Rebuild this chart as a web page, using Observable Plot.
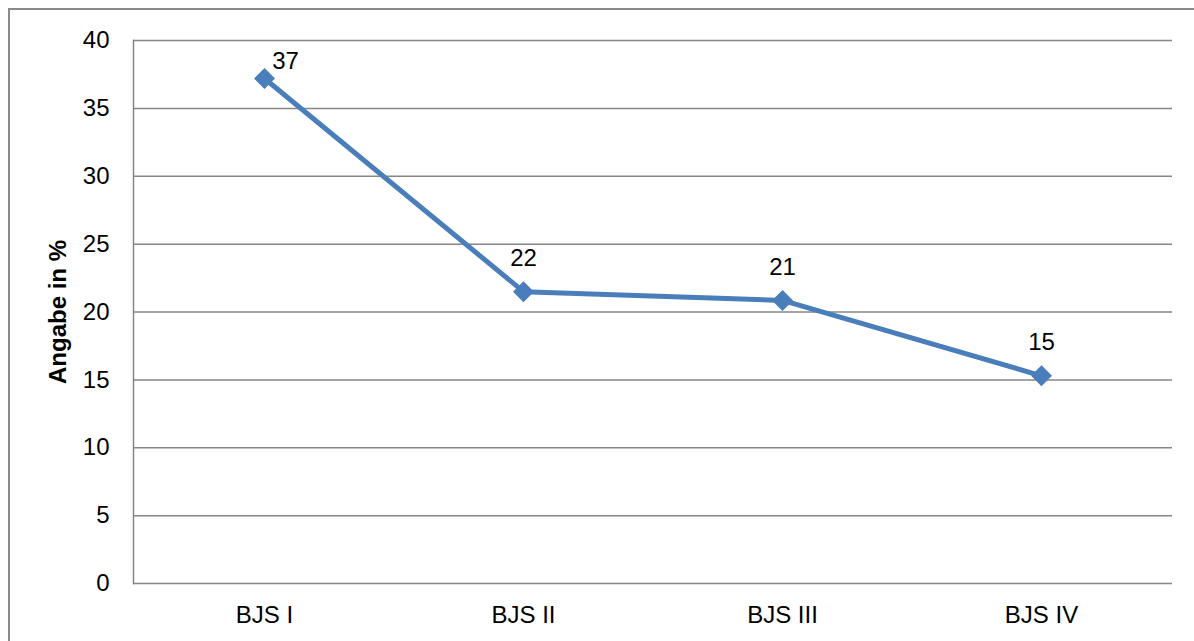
<!DOCTYPE html>
<html>
<head>
<meta charset="utf-8">
<script src="https://cdn.jsdelivr.net/npm/d3@7"></script>
<script src="https://cdn.jsdelivr.net/npm/@observablehq/plot@0.6"></script>
<style>
  html, body { margin: 0; padding: 0; background: #fff; }
  #wrap { position: relative; width: 1194px; height: 641px; overflow: hidden; }
  #border { position: absolute; left: 8px; top: 8px; width: 1300px; height: 800px;
            border-left: 2px solid #8a8a8a; border-top: 2px solid #8a8a8a; pointer-events: none; }
  #chart { position: absolute; left: 0; top: 0; }
</style>
</head>
<body>
<div id="wrap"><div id="chart"></div><div id="border"></div></div>
<script>
const categories = ["BJS I", "BJS II", "BJS III", "BJS IV"];
const values = [37.2, 21.5, 20.85, 15.3];
const labels = ["37", "22", "21", "15"];
const yTicks = [0, 5, 10, 15, 20, 25, 30, 35, 40];

const data = categories.map((c, i) => ({cat: c, v: values[i], label: labels[i], i}));
const font = "Liberation Sans, Arial, sans-serif";
const fs = 24;

const chart = Plot.plot({
  width: 1194,
  height: 641,
  marginLeft: 133,
  marginRight: 22,
  marginTop: 40,
  marginBottom: 58,
  style: {fontFamily: font, fontSize: fs + "px", color: "#000", background: "transparent"},
  x: {type: "point", domain: categories, padding: 0.5, label: null},
  y: {domain: [0, 40], label: null},
  marks: [
    Plot.ruleY(yTicks, {stroke: "#868686", strokeWidth: 1.5}),
    Plot.frame({anchor: "left", stroke: "#868686", strokeWidth: 1.5}),
    Plot.axisY({ticks: yTicks, tickSize: 0, tickPadding: 24, fontSize: fs, fill: "#000", label: null}),
    Plot.axisX({tickSize: 0, tickPadding: 22, fontSize: fs, fill: "#000", label: null}),
    Plot.text(["Angabe in %"], {frameAnchor: "left", textAnchor: "middle", dx: -75, rotate: -90, fontWeight: "bold", fontSize: 24, fill: "#000"}),
    Plot.line(data, {x: "cat", y: "v", stroke: "#4A7EBB", strokeWidth: 5}),
    Plot.dot(data, {x: "cat", y: "v", symbol: "diamond2", r: 8.5, fill: "#4A7EBB", stroke: "#4A7EBB"}),
    Plot.text(data.filter(d => d.i === 0), {x: "cat", y: "v", text: "label", dx: 21, dy: -17, fontSize: fs, fill: "#000"}),
    Plot.text(data.filter(d => d.i !== 0), {x: "cat", y: "v", text: "label", dy: -33, fontSize: fs, fill: "#000"})
  ]
});
document.getElementById("chart").append(chart);
</script>
</body>
</html>
